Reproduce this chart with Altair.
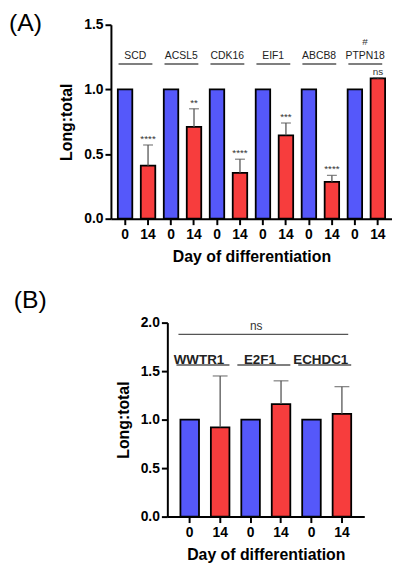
import altair as alt
import pandas as pd

# ---------------- data ----------------
genes_a = ["SCD", "ACSL5", "CDK16", "EIF1", "ABCB8", "PTPN18"]
day0_a = [1.0, 1.0, 1.0, 1.0, 1.0, 1.0]
day14_a = [0.41, 0.71, 0.355, 0.645, 0.285, 1.085]
upper14_a = [0.57, 0.85, 0.46, 0.74, 0.335, 1.09]
sig_a = ["****", "**", "****", "***", "****", "ns"]
hash_gene = "PTPN18"

genes_b = ["WWTR1", "E2F1", "ECHDC1"]
day0_b = [1.0, 1.0, 1.0]
day14_b = [0.92, 1.16, 1.06]
upper14_b = [1.45, 1.40, 1.34]
sig_b = "ns"

days = ["0", "14"]
BLUE = "#5558FA"
RED = "#F73D3D"
FONT = "Liberation Sans"
LINE = "#555555"


def bar_table(genes, d0, d14, up14, sig):
    rows = []
    for i, g in enumerate(genes):
        rows.append(dict(gene=g, day="0", key=f"{g}|0", value=d0[i], upper=None, sig=""))
        rows.append(dict(gene=g, day="14", key=f"{g}|14", value=d14[i],
                         upper=up14[i], sig=sig[i] if sig else ""))
    return pd.DataFrame(rows)


def gene_table(genes):
    return pd.DataFrame({"gene": genes,
                         "k0": [f"{g}|0" for g in genes],
                         "k14": [f"{g}|14" for g in genes]})


def panel(df, gdf, ymax, yvals, pin, pout, cap, gene_font, gene_weight,
          label_y, line_y, line_b0, line_off0, line_b1, text_dx):
    keys = list(df["key"])
    xscale = alt.Scale(domain=keys, paddingInner=pin, paddingOuter=pout)
    yscale = alt.Scale(domain=[0, ymax], nice=False)
    base = alt.Chart(df)
    bars = base.mark_bar(stroke="black", strokeWidth=1.8).encode(
        x=alt.X("key:N", scale=xscale, sort=keys,
                axis=alt.Axis(title="Day of differentiation",
                              labelExpr="split(datum.label, '|')[1]",
                              labelAngle=0, labelFontSize=14, labelFontWeight="bold",
                              labelColor="black", labelPadding=3,
                              titleFontSize=16, titleFontWeight="bold", titleColor="black",
                              titlePadding=7,
                              domainColor="black", domainWidth=2,
                              tickColor="black", tickWidth=2, tickSize=6)),
        y=alt.Y("value:Q", scale=yscale,
                axis=alt.Axis(title="Long:total", values=yvals, format=".1f", grid=False,
                              labelFontSize=14, labelFontWeight="bold", labelColor="black",
                              labelPadding=2,
                              titleFontSize=16, titleFontWeight="bold", titleColor="black",
                              titlePadding=9,
                              domainColor="black", domainWidth=2,
                              tickColor="black", tickWidth=2, tickSize=6)),
        color=alt.Color("day:N", scale=alt.Scale(domain=days, range=[BLUE, RED]), legend=None),
    )
    err_base = base.transform_filter("datum.day == '14'")
    err = err_base.mark_rule(color=LINE, strokeWidth=1.3).encode(
        x="key:N",
        y="value:Q",
        y2="upper:Q",
    )
    caps = err_base.mark_tick(color=LINE, thickness=1.3, size=cap).encode(
        x="key:N",
        y="upper:Q",
    )
    gbase = alt.Chart(gdf)
    glines = gbase.mark_rule(color=LINE, strokeWidth=1.4, xOffset=line_off0).encode(
        x=alt.X("k0:N", bandPosition=line_b0),
        x2=alt.X2("k14:N", bandPosition=line_b1),
        y=alt.datum(line_y),
    )
    gtext = gbase.mark_text(font=FONT, fontSize=gene_font, fontWeight=gene_weight,
                            baseline="alphabetic", color="#222222", dx=text_dx).encode(
        x=alt.X("k0:N", bandPosition=1),
        y=alt.datum(label_y),
        text="gene:N",
    )
    return [bars, err, caps, glines, gtext]


# ---------------- panel A ----------------
dfa = bar_table(genes_a, day0_a, day14_a, upper14_a, sig_a)
gda = gene_table(genes_a)
layers_a = panel(dfa, gda, 1.5, [0, 0.5, 1.0, 1.5], 0.37, 0.3, 10, 10.5, "normal",
                 1.237, 1.196, 0.05, 0, 0.8, 3)
sig_text_a = alt.Chart(dfa).transform_filter("datum.day == '14'").mark_text(
    font=FONT, fontSize=10, baseline="alphabetic", dy=-3, color="#333333").encode(
    x="key:N",
    y="upper:Q",
    text="sig:N",
)
hash_df = pd.DataFrame({"k0": [f"{hash_gene}|0"], "t": ["#"]})
hash_text = alt.Chart(hash_df).mark_text(font=FONT, fontSize=10, baseline="alphabetic",
                                         color="#333333", dx=3).encode(
    x=alt.X("k0:N", bandPosition=1),
    y=alt.datum(1.345),
    text="t:N",
)
chart_a = alt.layer(*layers_a, sig_text_a, hash_text).properties(
    width=284, height=196,
    title=alt.TitleParams("(A)", anchor="start", frame="group", fontSize=25,
                          fontWeight="normal", font=FONT, color="black", dx=-103, dy=22),
)

# ---------------- panel B ----------------
dfb = bar_table(genes_b, day0_b, day14_b, upper14_b, None)
gdb = gene_table(genes_b)
layers_b = panel(dfb, gdb, 2.0, [0, 0.5, 1.0, 1.5, 2.0], 0.39, 0.43, 15, 13.5, "bold",
                 1.578, 1.563, 0, -4, 1.0, 0)
ns_df = pd.DataFrame({"k0": [f"{genes_b[0]}|0"], "k14": [f"{genes_b[-1]}|14"],
                      "kt": [f"{genes_b[1]}|0"], "t": [sig_b]})
ns_line = alt.Chart(ns_df).mark_rule(color=LINE, strokeWidth=1.3, xOffset=-2).encode(
    x=alt.X("k0:N", bandPosition=0),
    x2=alt.X2("k14:N", bandPosition=0.84),
    y=alt.datum(1.878),
)
ns_text = alt.Chart(ns_df).mark_text(font=FONT, fontSize=12, baseline="alphabetic",
                                     color="#333333").encode(
    x=alt.X("kt:N", bandPosition=0.8),
    y=alt.datum(1.925),
    text="t:N",
)
chart_b = alt.layer(*layers_b, ns_line, ns_text).properties(width=199, height=196)

spacer = alt.Chart(pd.DataFrame({"a": [0]})).mark_point(opacity=0).properties(width=1, height=196)

row_b = alt.hconcat(spacer, chart_b, spacing=0).properties(
    title=alt.TitleParams("(B)", anchor="start", fontSize=25, fontWeight="normal",
                          font=FONT, color="black", dx=-96, offset=3),
)

chart = alt.vconcat(chart_a, row_b, spacing=24).properties(
    padding={"left": 1, "top": 0, "right": 0, "bottom": 0}
).configure(font=FONT).configure_view(stroke=None)

chart.save("out.html", embed_options={"renderer": "svg", "actions": False})
